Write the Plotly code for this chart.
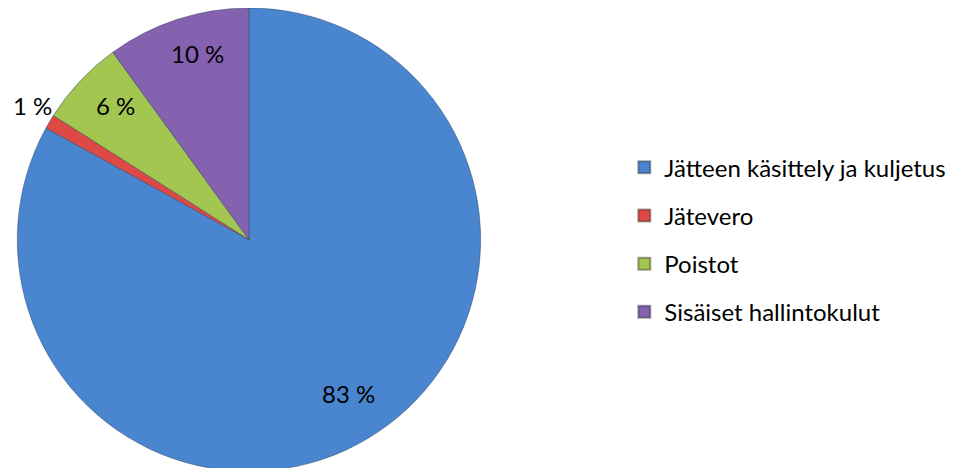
import math
import plotly.graph_objects as go

categories = ['Jätteen käsittely ja kuljetus', 'Jätevero', 'Poistot', 'Sisäiset hallintokulut']
shares = [83, 1, 6, 10]
colors = ['#4A85D0', '#DD4A45', '#A3C651', '#8562B0']
# label distance from centre, as a fraction of the radius
label_dist = [0.78, 1.13, 0.84, 0.84]

FONT = 'Lato, Calibri, Carlito, sans-serif'
W, H = 960, 468
# pie geometry in pixels (matches the domain below)
CX, CY, R = 249, 230, 231

fig = go.Figure()
fig.add_trace(go.Pie(
    labels=categories,
    values=shares,
    sort=False,
    direction='clockwise',
    rotation=0,
    marker=dict(colors=colors, line=dict(color='rgba(40,60,90,0.45)', width=1)),
    textinfo='none',
    showlegend=False,
    hoverinfo='label+percent',
    domain=dict(x=[0.004, 0.498], y=[0.01, 1.0]),
))

# data labels placed along each slice's mid-angle, Excel style
total = sum(shares)
start = 0.0
for val, dist in zip(shares, label_dist):
    mid = (start + val / 2) / total * 2 * math.pi
    start += val
    d = R * dist
    px = CX + d * math.sin(mid)
    py = CY - d * math.cos(mid)
    fig.add_annotation(
        text=f'{val} %', x=px / W, y=1 - py / H, xref='paper', yref='paper',
        xanchor='center', yanchor='middle', showarrow=False,
        font=dict(family=FONT, size=24, color='black'),
    )

# legend entries as dummy markers so item spacing can be controlled
for i, (name, col) in enumerate(zip(categories, colors)):
    fig.add_trace(go.Scatter(
        x=[None], y=[None], mode='markers', name=name,
        legendgroup=f'g{i}',
        marker=dict(symbol='square', size=12, color=col,
                    line=dict(color='rgba(0,0,0,0.35)', width=1)),
    ))

fig.update_layout(
    width=W, height=H,
    margin=dict(l=0, r=0, t=0, b=0),
    paper_bgcolor='white',
    plot_bgcolor='white',
    xaxis=dict(visible=False),
    yaxis=dict(visible=False),
    legend=dict(
        x=0.642, y=0.505, xanchor='left', yanchor='middle',
        font=dict(family=FONT, size=24, color='black'),
        tracegroupgap=14,
        itemsizing='constant',
        bgcolor='rgba(0,0,0,0)',
    ),
)

fig.write_html('out.html')
